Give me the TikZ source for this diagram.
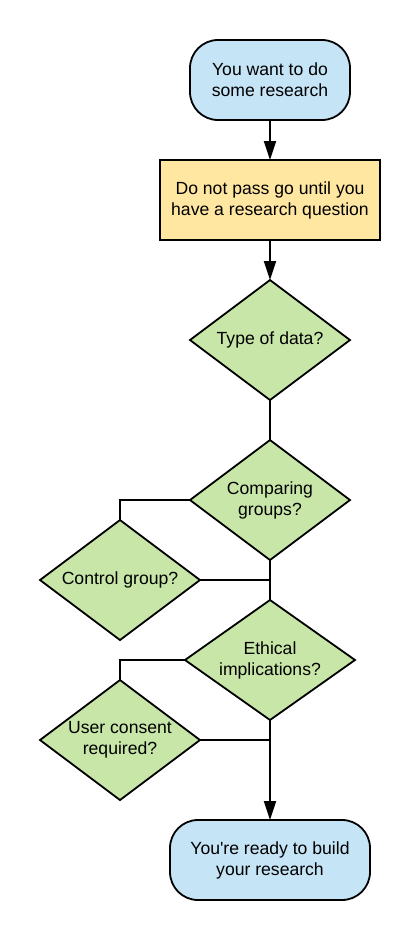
\documentclass[tikz,border=0pt]{standalone}
\usepackage{fontspec}
\setmainfont{Liberation Sans}[Ligatures=TeXOff]
\usetikzlibrary{shapes.geometric,arrows.meta}
\definecolor{termblue}{RGB}{197,228,246}
\definecolor{procyellow}{RGB}{255,231,161}
\definecolor{decgreen}{RGB}{199,230,168}
\tikzset{
  txt/.style={font=\fontsize{17.6}{21}\selectfont, align=center, text=black},
  base/.style={txt, draw=black, line width=1.8pt, inner sep=0pt, outer sep=0pt},
  term/.style={base, fill=termblue, rounded corners=28pt, minimum height=80pt},
  proc/.style={base, fill=procyellow, minimum width=220pt, minimum height=80pt},
  dec/.style={base, diamond, fill=decgreen, minimum height=120pt},
  conn/.style={draw=black, line width=1.8pt},
  arr/.style={conn, -{Triangle[length=19pt,width=12pt]}},
}
\begin{document}
\begin{tikzpicture}[x=1pt,y=-1pt]
\useasboundingbox (0,0) rectangle (420,940);
\node[term, minimum width=160pt] (start) at (270,80) {You want to do\\some research};
\node[proc] (q) at (270,200) {Do not pass go until you\\have a research question};
\node[dec, minimum width=160pt, label={[txt]center:Type of data?}] (type) at (270,340) {};
\node[dec, minimum width=160pt, label={[txt]center:Comparing\\groups?}] (cmp) at (270,500) {};
\node[dec, minimum width=160pt, label={[txt]center:Control group?}] (ctl) at (120,580) {};
\node[dec, minimum width=170pt, label={[txt]center:Ethical\\implications?}] (eth) at (270,660) {};
\node[dec, minimum width=160pt, label={[txt]center:User consent\\required?}] (usr) at (120,740) {};
\node[term, minimum width=200pt] (end) at (270,860) {You're ready to build\\your research};
\draw[arr] (start.south) -- (q.north);
\draw[arr] (q.south) -- (type.north);
\draw[conn] (type.south) -- (cmp.north);
\draw[conn] (cmp.west) -| (ctl.north);
\draw[conn] (ctl.east) -- (ctl.east -| cmp.south);
\draw[conn] (cmp.south) -- (eth.north);
\draw[conn] (eth.west) -| (usr.north);
\draw[conn] (usr.east) -- (usr.east -| eth.south);
\draw[arr] (eth.south) -- (end.north);
\end{tikzpicture}
\end{document}
